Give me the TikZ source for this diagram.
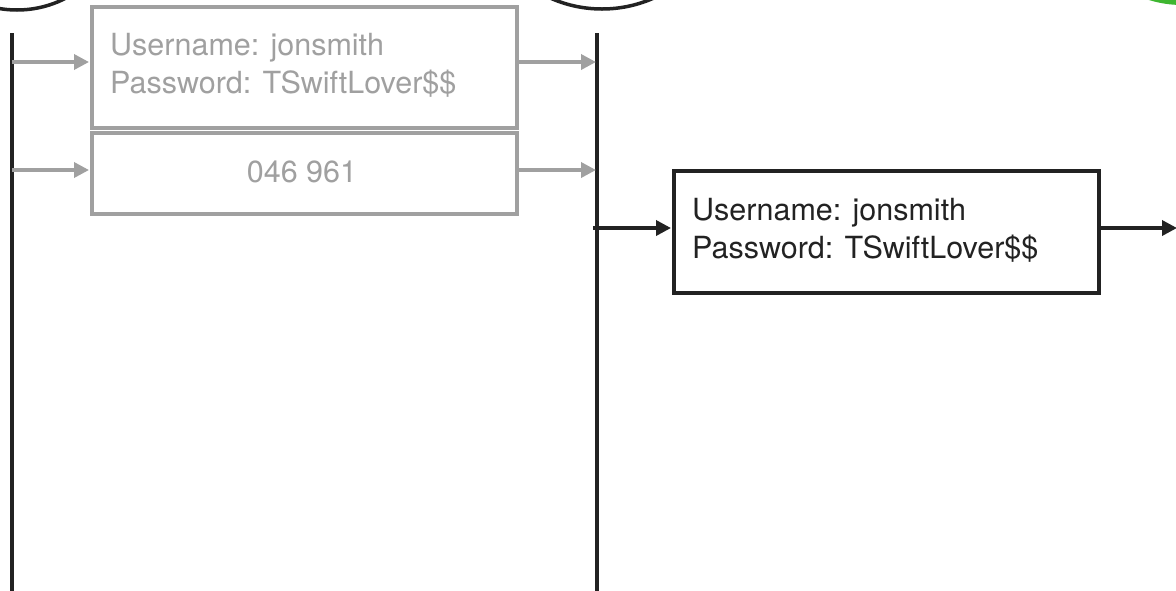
\documentclass[tikz,border=0pt]{standalone}
\usepackage{fontspec}
\setmainfont{TeX Gyre Heros}
\usetikzlibrary{arrows.meta}
\definecolor{faded}{HTML}{A0A0A0}
\definecolor{ink}{HTML}{222222}
\definecolor{okgreen}{RGB}{62,182,48}
\tikzset{
  msgbox/.style={draw, rectangle, inner sep=0pt, anchor=north west},
  oldbox/.style={msgbox, draw=faded, line width=3.5pt},
  newbox/.style={msgbox, draw=ink, line width=4pt},
  msgtext/.style={anchor=base west, inner sep=0pt, font=\fontsize{30.5}{38}\selectfont},
  oldtext/.style={msgtext, text=faded},
  newtext/.style={msgtext, text=ink},
  lifeline/.style={draw=ink, line width=4.5pt},
  oldflow/.style={draw=faded, line width=3.5pt, -{Triangle[length=15pt,width=15pt]}, shorten >=1pt},
  newflow/.style={draw=ink, line width=3.5pt, -{Triangle[length=15pt,width=15pt]}, shorten >=1pt},
}
\begin{document}
\begin{tikzpicture}[x=1pt,y=-1pt]
  \useasboundingbox (0,0) rectangle (1176,590);
  \clip (0,0) rectangle (1176,590);
  \fill[white] (0,0) rectangle (1176,590);

  % endpoints above the lifelines
  \draw[ink, line width=3.5pt] (17,-96) circle (106);
  \draw[ink, line width=3.5pt] (602,-118) circle (127);
  \fill[okgreen] (1182,-106) circle (111);

  % lifelines
  \coordinate (userTop) at (12,33);
  \coordinate (userBot) at (12,592);
  \coordinate (midTop) at (597,33);
  \coordinate (midBot) at (597,592);
  \draw[lifeline] (userTop) -- (userBot);
  \draw[lifeline] (midTop) -- (midBot);

  % intercepted messages (faded)
  \node[oldbox, minimum width=425pt, minimum height=121pt] (cred) at (90,5) {};
  \node[oldtext] (credUser) at (110,55) {Username: jonsmith};
  \node[oldtext] (credPass) at (110,93) {Password: TSwiftLover\$\$};

  \node[oldbox, minimum width=425pt, minimum height=81pt] (code) at (90,131) {};
  \node[oldtext, anchor=base] (codeText) at (302,182) {046 961};

  \coordinate (credIn) at (12,62);
  \coordinate (credOut) at (597,62);
  \coordinate (codeIn) at (12,170);
  \coordinate (codeOut) at (597,170);
  \draw[oldflow] (credIn) -- (credIn -| cred.west);
  \draw[oldflow] (credIn -| cred.east) -- (credOut);
  \draw[oldflow] (codeIn) -- (codeIn -| code.west);
  \draw[oldflow] (codeIn -| code.east) -- (codeOut);

  % replayed credentials
  \node[newbox, minimum width=425pt, minimum height=122pt] (replay) at (672,169) {};
  \node[newtext] (replayUser) at (692,220) {Username: jonsmith};
  \node[newtext] (replayPass) at (692,258) {Password: TSwiftLover\$\$};

  \coordinate (replayIn) at (593,228);
  \coordinate (replayOut) at (1177,228);
  \draw[newflow] (replayIn) -- (replayIn -| replay.west);
  \draw[newflow, shorten >=0pt] (replayIn -| replay.east) -- (replayOut);
\end{tikzpicture}
\end{document}
